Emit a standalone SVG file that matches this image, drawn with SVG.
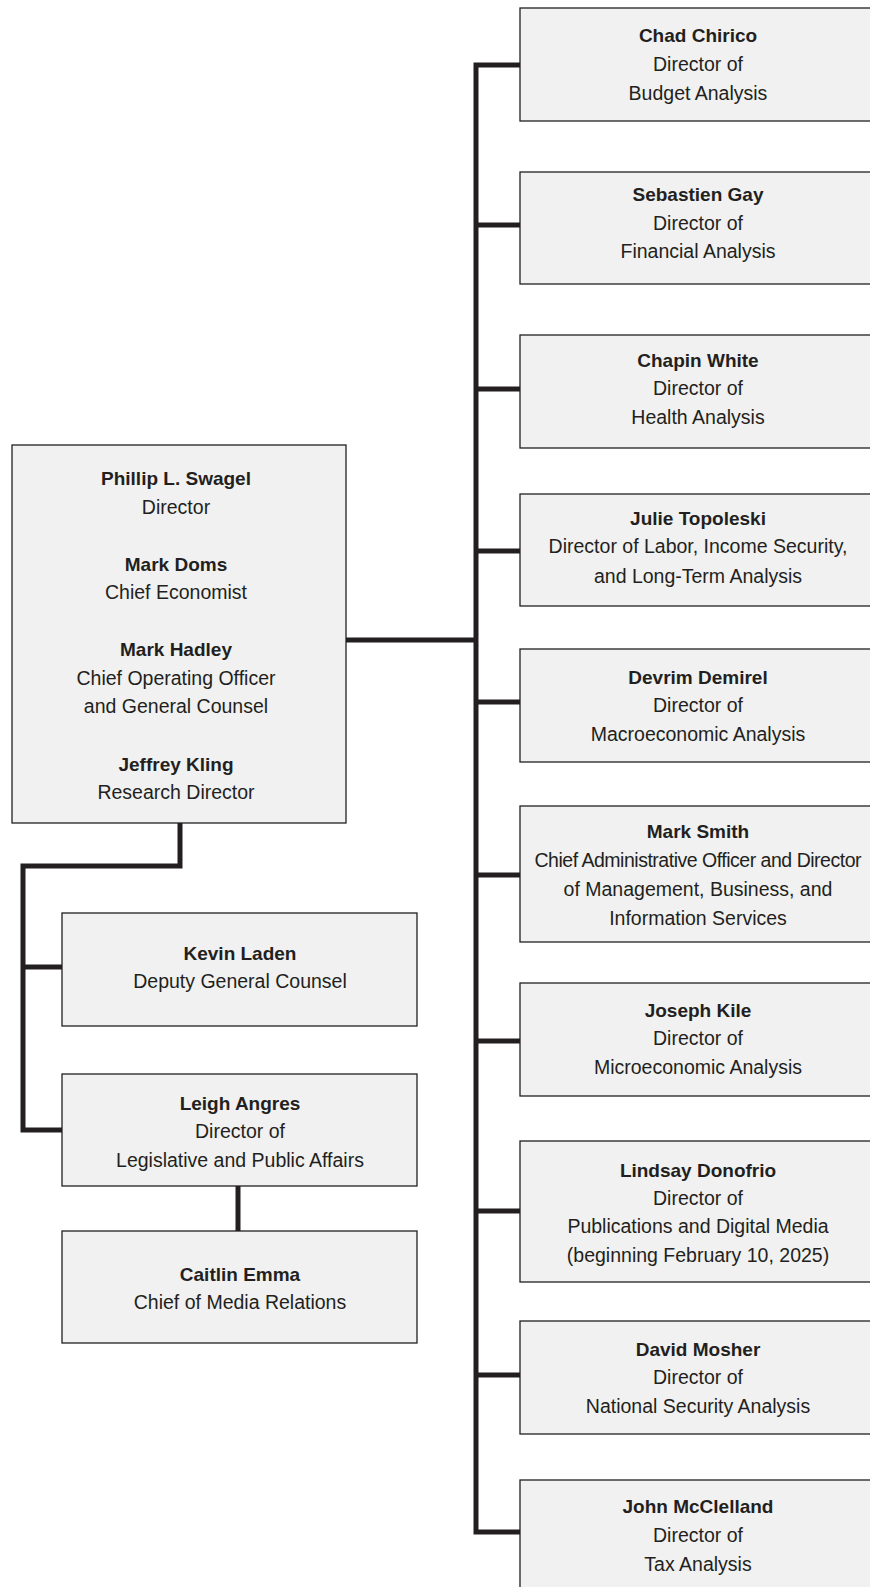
<svg xmlns="http://www.w3.org/2000/svg" width="870" height="1587" viewBox="0 0 870 1587">
<style>
.box{fill:#f0f1f0;stroke:#231f20;stroke-width:1.3}
.ln{fill:none;stroke:#231f20;stroke-width:5;stroke-linejoin:miter;stroke-linecap:butt}
text{font-family:"Liberation Sans",Arial,sans-serif;fill:#231f20;text-anchor:middle;font-size:19.5px}
.b{font-weight:bold;font-size:19px}
</style>
<rect width="870" height="1587" fill="#ffffff"/>
<g id="connectors">
<path class="ln" d="M520,65 H476 V1532 H520"/>
<path class="ln" d="M476,225 H520 M476,389 H520 M476,551 H520 M476,702 H520 M476,875 H520 M476,1041 H520 M476,1211 H520 M476,1375 H520"/>
<path class="ln" d="M346,640 H476"/>
<path class="ln" d="M180,823 V866 H23 V1130 H62"/>
<path class="ln" d="M23,967 H62"/>
<path class="ln" d="M238,1186 V1231"/>
</g>
<g id="main">
<rect class="box" x="12" y="445" width="334" height="378"/>
<text class="b" x="176" y="485">Phillip L. Swagel</text>
<text x="176" y="513.5">Director</text>
<text class="b" x="176" y="570.5">Mark Doms</text>
<text x="176" y="599">Chief Economist</text>
<text class="b" x="176" y="656">Mark Hadley</text>
<text x="176" y="684.5">Chief Operating Officer</text>
<text x="176" y="713">and General Counsel</text>
<text class="b" x="176" y="770.5">Jeffrey Kling</text>
<text x="176" y="799">Research Director</text>
</g>
<g id="kevin">
<rect class="box" x="62" y="913" width="355" height="113"/>
<text class="b" x="240" y="960">Kevin Laden</text>
<text x="240" y="988">Deputy General Counsel</text>
</g>
<g id="leigh">
<rect class="box" x="62" y="1074" width="355" height="112"/>
<text class="b" x="240" y="1109.5">Leigh Angres</text>
<text x="240" y="1138">Director of</text>
<text x="240" y="1167">Legislative and Public Affairs</text>
</g>
<g id="caitlin">
<rect class="box" x="62" y="1231" width="355" height="112"/>
<text class="b" x="240" y="1280.5">Caitlin Emma</text>
<text x="240" y="1309">Chief of Media Relations</text>
</g>
<g id="chad">
<rect class="box" x="520" y="8" width="360" height="113"/>
<text class="b" x="698" y="41.5">Chad Chirico</text>
<text x="698" y="70.5">Director of</text>
<text x="698" y="99.5">Budget Analysis</text>
</g>
<g id="sebastien">
<rect class="box" x="520" y="172" width="360" height="112"/>
<text class="b" x="698" y="201">Sebastien Gay</text>
<text x="698" y="229.5">Director of</text>
<text x="698" y="258">Financial Analysis</text>
</g>
<g id="chapin">
<rect class="box" x="520" y="335" width="360" height="113"/>
<text class="b" x="698" y="367">Chapin White</text>
<text x="698" y="395">Director of</text>
<text x="698" y="424">Health Analysis</text>
</g>
<g id="julie">
<rect class="box" x="520" y="494" width="360" height="112"/>
<text class="b" x="698" y="525">Julie Topoleski</text>
<text x="698" y="553">Director of Labor, Income Security,</text>
<text x="698" y="582.5">and Long-Term Analysis</text>
</g>
<g id="devrim">
<rect class="box" x="520" y="649" width="360" height="113"/>
<text class="b" x="698" y="684">Devrim Demirel</text>
<text x="698" y="712">Director of</text>
<text x="698" y="740.5">Macroeconomic Analysis</text>
</g>
<g id="marksmith">
<rect class="box" x="520" y="806" width="360" height="136"/>
<text class="b" x="698" y="837.5">Mark Smith</text>
<text x="698" y="867" textLength="327">Chief Administrative Officer and Director</text>
<text x="698" y="896">of Management, Business, and</text>
<text x="698" y="924.5">Information Services</text>
</g>
<g id="joseph">
<rect class="box" x="520" y="983" width="360" height="113"/>
<text class="b" x="698" y="1016.5">Joseph Kile</text>
<text x="698" y="1045">Director of</text>
<text x="698" y="1074">Microeconomic Analysis</text>
</g>
<g id="lindsay">
<rect class="box" x="520" y="1141" width="360" height="141"/>
<text class="b" x="698" y="1176.5">Lindsay Donofrio</text>
<text x="698" y="1205">Director of</text>
<text x="698" y="1233">Publications and Digital Media</text>
<text x="698" y="1261.5">(beginning February 10, 2025)</text>
</g>
<g id="david">
<rect class="box" x="520" y="1321" width="360" height="113"/>
<text class="b" x="698" y="1355.5">David Mosher</text>
<text x="698" y="1384">Director of</text>
<text x="698" y="1412.5">National Security Analysis</text>
</g>
<g id="john">
<rect class="box" x="520" y="1480" width="360" height="120"/>
<text class="b" x="698" y="1513">John McClelland</text>
<text x="698" y="1542">Director of</text>
<text x="698" y="1571">Tax Analysis</text>
</g>
</svg>
